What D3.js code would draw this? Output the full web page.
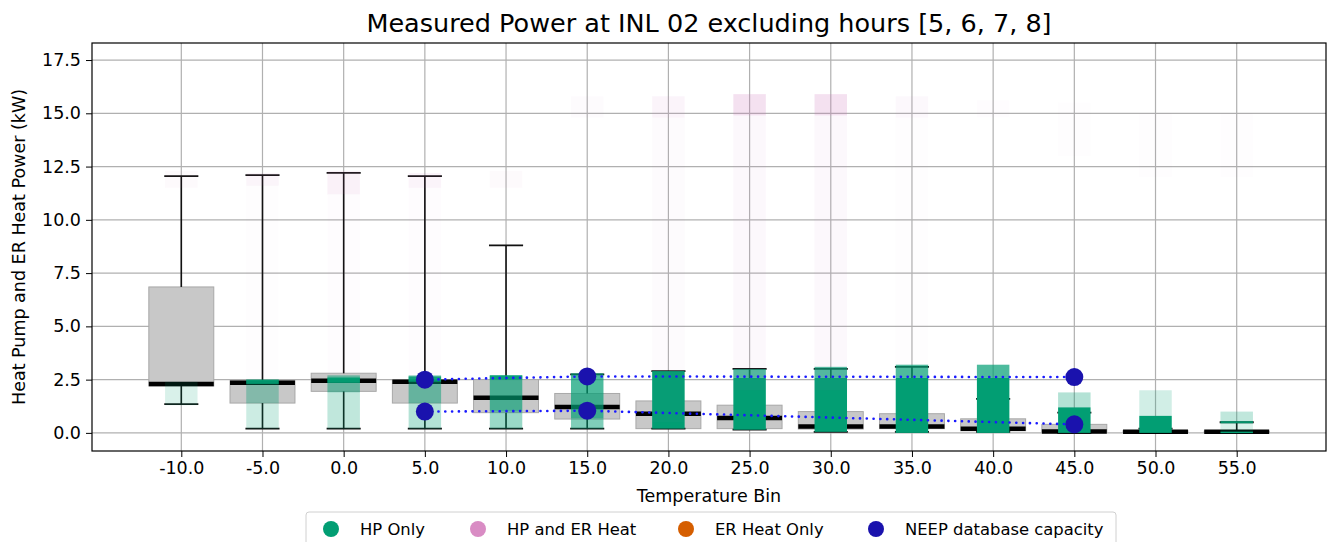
<!DOCTYPE html>
<html>
<head>
<meta charset="utf-8">
<script src="https://cdn.jsdelivr.net/npm/d3@7"></script>
<style>
  body { margin: 0; background: #fff; }
  text { font-family: "DejaVu Sans", sans-serif; fill: #000; }
</style>
</head>
<body>
<div id="chart"></div>
<script>
// temperature bins and box stats (kW)
const bins    = [-10, -5, 0, 5, 10, 15, 20, 25, 30, 35, 40, 45, 50, 55];
const whiskLo = [1.35, 0.2, 0.2, 0.2, 0.2, 0.2, 0.2, 0.15, 0.05, 0.05, 0.05, 0.0, 0.0, 0.0];
const q1      = [2.2, 1.4, 1.95, 1.4, 0.95, 0.65, 0.2, 0.2, 0.18, 0.2, 0.1, 0.05, 0.02, 0.02];
const median  = [2.3, 2.35, 2.45, 2.4, 1.65, 1.22, 0.9, 0.7, 0.3, 0.3, 0.2, 0.07, 0.05, 0.05];
const q3      = [6.85, 2.45, 2.8, 2.5, 2.5, 1.85, 1.5, 1.3, 1.0, 0.9, 0.66, 0.4, 0.1, 0.08];
const whiskHi = [12.05, 12.1, 12.2, 12.05, 8.8, 2.75, 2.9, 3.0, 3.0, 3.1, 1.6, 0.95, 0.2, 0.5];

// point clouds read as density bands per bin: [low, high, density]
const hpOnly = [
  [[1.3, 2.4, 0.15]],
  [[0.2, 1.4, 0.2], [1.4, 2.5, 0.35], [2.3, 2.5, 0.9]],
  [[0.2, 1.9, 0.25], [1.9, 2.7, 0.5], [2.35, 2.6, 0.95]],
  [[0.2, 1.4, 0.3], [1.4, 2.7, 0.5], [2.4, 2.65, 0.9]],
  [[0.2, 1.0, 0.4], [1.0, 2.7, 0.65], [2.5, 2.7, 0.9]],
  [[0.2, 0.7, 0.5], [0.7, 2.8, 0.7]],
  [[0.2, 2.9, 1]],
  [[0.15, 2.6, 1], [2.6, 3.0, 0.7]],
  [[0.05, 2.6, 1], [2.6, 3.1, 0.7]],
  [[0.0, 2.6, 1], [2.6, 3.2, 0.7]],
  [[0.0, 2.6, 1], [2.6, 3.2, 0.7]],
  [[0.0, 1.2, 1], [1.2, 1.9, 0.3]],
  [[0.0, 0.8, 1], [0.8, 2.0, 0.18]],
  [[0.0, 0.06, 1], [0.06, 0.45, 0.15], [0.45, 0.55, 0.9], [0.55, 1.0, 0.25]]
];
const hpAndEr = [
  [[11.5, 12.3, 0.04]],
  [[11.6, 12.2, 0.07], [2.5, 11.6, 0.015]],
  [[11.2, 12.3, 0.1], [2.8, 11.2, 0.02]],
  [[11.5, 12.2, 0.08], [2.5, 11.5, 0.02]],
  [[11.5, 12.3, 0.04]],
  [[14.8, 15.8, 0.03]],
  [[14.8, 15.8, 0.08], [0.5, 14.8, 0.03]],
  [[14.9, 15.9, 0.22], [2.0, 14.9, 0.05]],
  [[14.9, 15.9, 0.22], [2.0, 14.9, 0.05]],
  [[14.8, 15.8, 0.05], [3.0, 14.8, 0.015]],
  [[14.8, 15.6, 0.02]],
  [[13.0, 15.5, 0.015]],
  [[12.0, 15.0, 0.01]],
  [[12.0, 15.0, 0.01]]
];

// NEEP database capacity points
const neepBins = [5, 15, 45];
const neepMax  = [2.5, 2.65, 2.62];
const neepMin  = [1.0, 1.04, 0.4];

const yTicks = [0, 2.5, 5, 7.5, 10, 12.5, 15, 17.5];

const legendItems = [
  { label: "HP Only", color: "#029e73" },
  { label: "HP and ER Heat", color: "#d98cc4" },
  { label: "ER Heat Only", color: "#d55e00" },
  { label: "NEEP database capacity", color: "#1a12ad" }
];

const width = 1335, height = 542;
const m = { left: 92, right: 1326, top: 43, bottom: 451 };

const svg = d3.select("#chart").append("svg")
  .attr("width", width)
  .attr("height", height);

const x = d3.scaleLinear().domain([-1.1, 14.1]).range([m.left, m.right]);
const y = d3.scaleLinear().domain([-0.85, 18.3]).range([m.bottom, m.top]);
const step = x(1) - x(0);

// grid
const grid = svg.append("g").attr("stroke", "#b0b0b0").attr("stroke-width", 1.2);
grid.selectAll("line.v").data(bins).join("line")
  .attr("class", "v")
  .attr("x1", (d, i) => x(i)).attr("x2", (d, i) => x(i))
  .attr("y1", m.top).attr("y2", m.bottom);
grid.selectAll("line.h").data(yTicks).join("line")
  .attr("class", "h")
  .attr("x1", m.left).attr("x2", m.right)
  .attr("y1", d => y(d)).attr("y2", d => y(d));

// boxes
const boxes = svg.append("g");
bins.forEach((b, i) => {
  const cx = x(i);
  const bw = step * 0.8, cw = step * 0.42;
  const g = boxes.append("g");
  g.append("rect")
    .attr("x", cx - bw / 2).attr("width", bw)
    .attr("y", y(q3[i])).attr("height", Math.max(1, y(q1[i]) - y(q3[i])))
    .attr("fill", "#c8c8c8").attr("stroke", "#a8a8a8").attr("stroke-width", 1);
  g.append("line")
    .attr("x1", cx).attr("x2", cx)
    .attr("y1", y(q3[i])).attr("y2", y(whiskHi[i]))
    .attr("stroke", "#111").attr("stroke-width", 1.6);
  g.append("line")
    .attr("x1", cx).attr("x2", cx)
    .attr("y1", y(q1[i])).attr("y2", y(whiskLo[i]))
    .attr("stroke", "#111").attr("stroke-width", 1.6);
  [whiskHi[i], whiskLo[i]].forEach(v => {
    g.append("line")
      .attr("x1", cx - cw / 2).attr("x2", cx + cw / 2)
      .attr("y1", y(v)).attr("y2", y(v))
      .attr("stroke", "#111").attr("stroke-width", 1.8);
  });
  g.append("line")
    .attr("x1", cx - bw / 2).attr("x2", cx + bw / 2)
    .attr("y1", y(median[i])).attr("y2", y(median[i]))
    .attr("stroke", "#000").attr("stroke-width", 4.5);
});

// point clouds
function drawBands(data, color) {
  const g = svg.append("g");
  data.forEach((bands, i) => {
    g.selectAll(null).data(bands).join("rect")
      .attr("x", x(i - 0.2)).attr("width", x(i + 0.2) - x(i - 0.2))
      .attr("y", d => y(d[1]))
      .attr("height", d => Math.max(1.5, y(d[0]) - y(d[1])))
      .attr("fill", color)
      .attr("fill-opacity", d => d[2]);
  });
}
drawBands(hpOnly, "#029e73");
drawBands(hpAndEr, "#cc78bc");

// NEEP capacity
const neepX = neepBins.map(b => x(bins.indexOf(b)));
const line = d3.line().x((d, i) => neepX[i]).y(d => y(d));
[neepMax, neepMin].forEach(series => {
  svg.append("path")
    .attr("d", line(series))
    .attr("fill", "none")
    .attr("stroke", "#1a1aff")
    .attr("stroke-width", 2.6)
    .attr("stroke-linecap", "round")
    .attr("stroke-dasharray", "0.1 6.7");
  svg.selectAll(null).data(series).join("circle")
    .attr("cx", (d, i) => neepX[i]).attr("cy", d => y(d))
    .attr("r", 9).attr("fill", "#1a12ad");
});

// frame
svg.append("rect")
  .attr("x", m.left).attr("y", m.top)
  .attr("width", m.right - m.left).attr("height", m.bottom - m.top)
  .attr("fill", "none").attr("stroke", "#000").attr("stroke-width", 1.2);

// axes
const xAxis = d3.axisBottom(x)
  .tickValues(d3.range(bins.length))
  .tickFormat(i => bins[i].toFixed(1))
  .tickSize(6).tickPadding(5);
svg.append("g").attr("transform", `translate(0,${m.bottom})`).call(xAxis)
  .call(g => g.select(".domain").remove())
  .call(g => g.selectAll("text").attr("font-size", 17.5).attr("font-family", "DejaVu Sans"));

const yAxis = d3.axisLeft(y)
  .tickValues(yTicks)
  .tickFormat(d3.format(".1f"))
  .tickSize(6).tickPadding(5);
svg.append("g").attr("transform", `translate(${m.left},0)`).call(yAxis)
  .call(g => g.select(".domain").remove())
  .call(g => g.selectAll("text").attr("font-size", 17.5).attr("font-family", "DejaVu Sans"));

// labels
svg.append("text")
  .attr("x", (m.left + m.right) / 2).attr("y", 32)
  .attr("text-anchor", "middle").attr("font-size", 25.5)
  .text("Measured Power at INL 02 excluding hours [5, 6, 7, 8]");
svg.append("text")
  .attr("x", (m.left + m.right) / 2).attr("y", 502)
  .attr("text-anchor", "middle").attr("font-size", 17.5)
  .text("Temperature Bin");
svg.append("text")
  .attr("transform", `translate(25,${(m.top + m.bottom) / 2}) rotate(-90)`)
  .attr("text-anchor", "middle").attr("font-size", 17.5)
  .text("Heat Pump and ER Heat Power (kW)");

// legend
const legend = svg.append("g");
legend.append("rect")
  .attr("x", 306).attr("y", 512).attr("width", 810).attr("height", 40)
  .attr("rx", 3).attr("fill", "#fff").attr("stroke", "#d0d0d0");
const legendX = [331, 478, 686, 876];
legendItems.forEach((d, i) => {
  legend.append("circle")
    .attr("cx", legendX[i]).attr("cy", 529).attr("r", 8)
    .attr("fill", d.color);
  legend.append("text")
    .attr("x", legendX[i] + 29).attr("y", 535)
    .attr("font-size", 16.4)
    .text(d.label);
});
</script>
</body>
</html>
